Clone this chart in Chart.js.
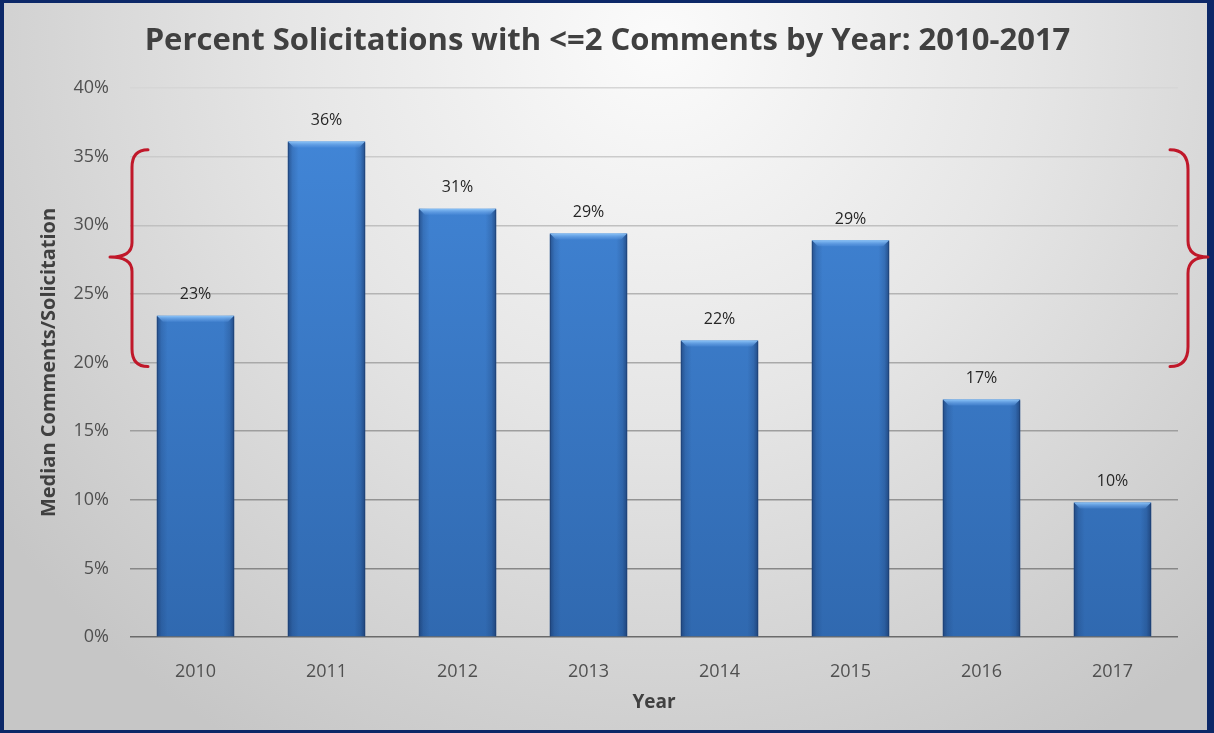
<!DOCTYPE html>
<html>
<head>
<meta charset="utf-8">
<script src="https://cdn.jsdelivr.net/npm/chart.js@4.4.1/dist/chart.umd.min.js"></script>
<style>
  html, body { margin: 0; padding: 0; background: #ffffff; }
  #wrap { width: 1214px; height: 733px; position: relative; }
  canvas { display: block; }
</style>
</head>
<body>
<div id="wrap"><canvas id="chart" width="1214" height="733"></canvas></div>
<script>
// Share of solicitations that drew two comments or fewer, per year
const years = ['2010', '2011', '2012', '2013', '2014', '2015', '2016', '2017'];
const pctLowComment = [23.4, 36.1, 31.2, 29.4, 21.6, 28.9, 17.3, 9.8];
// Range of the y axis bracketed on both sides of the plot
const braceRange = [20, 35];
const yTicks = { min: 0, max: 40, step: 5 };

const FONT = '"Open Sans", Lato, "Liberation Sans", sans-serif';

// Page background (soft radial grey) and the dark navy frame
const frame = {
  id: 'frame',
  beforeDraw(chart) {
    const { ctx, width, height } = chart;
    ctx.save();
    const g = ctx.createRadialGradient(660, 40, 0, 660, 40, 820);
    g.addColorStop(0, '#fbfbfb');
    g.addColorStop(0.45, '#e6e6e6');
    g.addColorStop(1, '#c6c6c6');
    ctx.fillStyle = g;
    ctx.fillRect(0, 0, width, height);
    ctx.restore();
  },
  afterDraw(chart) {
    const { ctx, width, height } = chart;
    ctx.save();
    ctx.fillStyle = '#0c2868';
    ctx.fillRect(0, 0, width, 3);          // top
    ctx.fillRect(0, 0, 4, height);         // left
    ctx.fillRect(width - 7, 0, 7, height); // right
    ctx.fillRect(0, height - 3, width, 3); // bottom
    ctx.restore();
  }
};

// Bevelled look of each bar: darker side edges and a light top rim
const barShade = {
  id: 'barShade',
  afterDatasetsDraw(chart) {
    const { ctx } = chart;
    const meta = chart.getDatasetMeta(0);
    ctx.save();
    meta.data.forEach(bar => {
      const { x, y, base, width } = bar.getProps(['x', 'y', 'base', 'width'], true);
      const l = x - width / 2, r = x + width / 2;
      const h = base - y;
      // side shading
      const sg = ctx.createLinearGradient(l, 0, r, 0);
      sg.addColorStop(0, 'rgba(20,45,90,0.55)');
      sg.addColorStop(0.06, 'rgba(20,45,90,0.18)');
      sg.addColorStop(0.14, 'rgba(20,45,90,0)');
      sg.addColorStop(0.86, 'rgba(20,45,90,0)');
      sg.addColorStop(0.94, 'rgba(20,45,90,0.2)');
      sg.addColorStop(1, 'rgba(20,45,90,0.6)');
      ctx.fillStyle = sg;
      ctx.fillRect(l, y, width, h);
      // light top rim with bevelled corners
      const rim = 6;
      const tg = ctx.createLinearGradient(0, y, 0, y + rim);
      tg.addColorStop(0, '#8cc4f8');
      tg.addColorStop(1, 'rgba(90,150,225,0.3)');
      ctx.fillStyle = tg;
      ctx.beginPath();
      ctx.moveTo(l, y);
      ctx.lineTo(r, y);
      ctx.lineTo(r - rim, y + rim);
      ctx.lineTo(l + rim, y + rim);
      ctx.closePath();
      ctx.fill();
      // thin outline for the side faces
      ctx.strokeStyle = 'rgba(30,60,110,0.55)';
      ctx.lineWidth = 1;
      ctx.beginPath();
      ctx.moveTo(l + 0.5, base);
      ctx.lineTo(l + 0.5, y + 1);
      ctx.moveTo(r - 0.5, base);
      ctx.lineTo(r - 0.5, y + 1);
      ctx.stroke();
    });
    ctx.restore();
  }
};

// Percentage printed above each bar
const valueLabels = {
  id: 'valueLabels',
  afterDatasetsDraw(chart) {
    const { ctx } = chart;
    const meta = chart.getDatasetMeta(0);
    const values = chart.data.datasets[0].data;
    ctx.save();
    ctx.font = '16px ' + FONT;
    ctx.fillStyle = '#262626';
    ctx.textAlign = 'center';
    ctx.textBaseline = 'middle';
    meta.data.forEach((bar, i) => {
      ctx.fillText(Math.round(values[i]) + '%', bar.x, bar.y - 21);
    });
    ctx.restore();
  }
};

// Red curly braces marking the bracketed band on both sides
const braces = {
  id: 'braces',
  afterDraw(chart) {
    const { ctx, chartArea } = chart;
    const ys = chart.scales.y;
    const top = ys.getPixelForValue(braceRange[1]) - 7;
    const bot = ys.getPixelForValue(braceRange[0]) + 4;
    const mid = (top + bot) / 2 - 1;
    ctx.save();
    ctx.strokeStyle = '#c0182a';
    ctx.lineWidth = 3;
    ctx.lineCap = 'round';
    ctx.lineJoin = 'round';
    function brace(endX, spineX, tipX) {
      const d = Math.abs(spineX - endX);
      ctx.beginPath();
      ctx.moveTo(endX, top);
      ctx.quadraticCurveTo(spineX, top, spineX, top + d * 1.1);
      ctx.lineTo(spineX, mid - d * 0.9);
      ctx.quadraticCurveTo(spineX, mid, tipX, mid);
      ctx.quadraticCurveTo(spineX, mid, spineX, mid + d * 0.9);
      ctx.lineTo(spineX, bot - d * 1.1);
      ctx.quadraticCurveTo(spineX, bot, endX, bot);
      ctx.stroke();
    }
    brace(chartArea.left + 18, chartArea.left + 2, chartArea.left - 20);
    brace(chartArea.right - 8, chartArea.right + 10, chartArea.right + 30);
    ctx.restore();
  }
};

function mix(a, b, t) {
  const pa = a.match(/\w\w/g).map(h => parseInt(h, 16));
  const pb = b.match(/\w\w/g).map(h => parseInt(h, 16));
  return 'rgb(' + pa.map((v, i) => Math.round(v + (pb[i] - v) * t)).join(',') + ')';
}

const ctx = document.getElementById('chart').getContext('2d');
new Chart(ctx, {
  type: 'bar',
  data: {
    labels: years,
    datasets: [{
      data: pctLowComment,
      backgroundColor(c) {
        const area = c.chart.chartArea;
        if (!area) return '#3a7acb';
        const g = c.chart.ctx.createLinearGradient(0, area.top, 0, area.bottom);
        g.addColorStop(0, '#4388da');
        g.addColorStop(1, '#3069b0');
        return g;
      },
      borderWidth: 0,
      barPercentage: 0.59,
      categoryPercentage: 1
    }]
  },
  plugins: [frame, barShade, valueLabels, braces],
  options: {
    responsive: false,
    animation: false,
    devicePixelRatio: 1,
    layout: { padding: { left: 37, right: 36, top: 0, bottom: 0 } },
    plugins: {
      legend: { display: false },
      tooltip: { enabled: false },
      title: {
        display: true,
        text: 'Percent Solicitations with <=2 Comments by Year: 2010-2017',
        color: '#404040',
        font: { family: FONT, size: 31, weight: 'bold', lineHeight: 1.2 },
        padding: { top: 23, bottom: 27.8 }
      }
    },
    scales: {
      x: {
        grid: { display: false },
        border: { display: false },
        ticks: { color: '#505050', font: { family: FONT, size: 18 }, padding: 16 },
        title: {
          display: true,
          text: 'Year',
          color: '#404040',
          font: { family: FONT, size: 19, weight: 'bold', lineHeight: 1.2 },
          padding: { top: 0, bottom: 19 }
        },
        afterFit(scale) { scale.height = 96; }
      },
      y: {
        min: yTicks.min,
        max: yTicks.max,
        ticks: {
          stepSize: yTicks.step,
          color: '#505050',
          font: { family: FONT, size: 18 },
          padding: 21,
          callback: v => v + '%'
        },
        border: { display: false },
        grid: {
          drawTicks: false,
          lineWidth: 1.5,
          color(c) {
            const v = c.tick ? c.tick.value : 0;
            if (v === 0) return '#6a6a6a';
            return mix('7c7c7c', 'd6d6d6', v / 40);
          }
        },
        title: {
          display: true,
          text: 'Median Comments/Solicitation',
          color: '#404040',
          font: { family: FONT, size: 20, weight: 'bold', lineHeight: 1.2 },
          padding: { top: 0, bottom: 0 }
        },
        afterFit(scale) { scale.width = 93; }
      }
    }
  }
});
</script>
</body>
</html>
